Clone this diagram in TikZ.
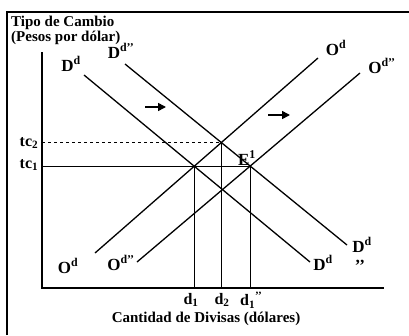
\documentclass[tikz,border=0pt]{standalone}
\usepackage{fontspec}
\setmainfont{Liberation Serif}
\usetikzlibrary{arrows.meta}
\begin{document}
\begin{tikzpicture}[x=1pt,y=-1pt,
  curve/.style={line width=1.3pt},
  axisline/.style={line width=1.3pt},
  frameline/.style={line width=1.2pt},
  guide/.style={line width=1pt},
  shiftarrow/.style={line width=1.6pt,-{Triangle[length=8pt,width=8pt]}},
  lbl/.style={font=\bfseries\fontsize{17}{17}\selectfont, inner sep=0pt},
  small/.style={font=\bfseries\fontsize{16}{16}\selectfont, inner sep=0pt},
  txt/.style={font=\bfseries\fontsize{15}{15}\selectfont, inner sep=0pt}]
\useasboundingbox (0,0) rectangle (409,335);
% frame
\coordinate (fTL) at (7,12); \coordinate (fTR) at (409,12); \coordinate (fBL) at (7,335);
\draw[frameline] (fBL) -- (fTL) -- (fTR);
% axes
\coordinate (yTop) at (42,52); \coordinate (orig) at (42,288); \coordinate (xEnd) at (384,288);
\draw[axisline] (yTop) -- (orig) -- (xEnd);
\node[txt,anchor=west] (ylab1) at (11,23) {Tipo de Cambio};
\node[txt,anchor=west] (ylab2) at (11,38) {(Pesos por dólar)};
\node[txt] (xlab) at (206,319) {Cantidad de Divisas (dólares)};
% curves
\coordinate (D1a) at (84,75); \coordinate (D1b) at (310,262);
\coordinate (D2a) at (125,64); \coordinate (D2b) at (347,245);
\coordinate (O1a) at (95,253); \coordinate (O1b) at (318,58);
\coordinate (O2a) at (137,262); \coordinate (O2b) at (360,73);
\draw[curve] (D1a) -- (D1b);
\draw[curve] (D2a) -- (D2b);
\draw[curve] (O1a) -- (O1b);
\draw[curve] (O2a) -- (O2b);
% intersections
\coordinate (E0) at (intersection of D1a--D1b and O1a--O1b);
\coordinate (Etc) at (intersection of D2a--D2b and O1a--O1b);
\coordinate (E1) at (intersection of D2a--D2b and O2a--O2b);
\draw[guide,dashed] (yTop |- Etc) -- (Etc);
\draw[guide] (yTop |- E1) -- (E1);
\draw[guide] (E0) -- (E0 |- orig);
\draw[guide] (Etc) -- (Etc |- orig);
\draw[guide] (E1) -- (E1 |- orig);
% labels
\node[small] (tc2) at (29,143) {tc\textsubscript{2}};
\node[small] (tc1) at (29,165) {tc\textsubscript{1}};
\node[small] (d1) at (191,300) {d\textsubscript{1}};
\node[small] (d2) at (222,300) {d\textsubscript{2}};
\node[small,anchor=west] (d3) at (240,300) {d\textsubscript{1}\textsuperscript{’’}};
\node[lbl] (E1l) at (247,158) {E\textsuperscript{1}};
\node[lbl] (Dl1) at (71,64) {D\textsuperscript{d}};
\node[lbl] (Dl2) at (121,51) {D\textsuperscript{d’’}};
\node[lbl] (Dl3) at (323,263) {D\textsuperscript{d}};
\node[lbl] (Dl4) at (362,245) {D\textsuperscript{d}};
\node[lbl] (Dl4p) at (360,266) {’’};
\node[lbl] (Ol1) at (336,48) {O\textsuperscript{d}};
\node[lbl] (Ol2) at (382,66) {O\textsuperscript{d’’}};
\node[lbl] (Ol3) at (68,266) {O\textsuperscript{d}};
\node[lbl] (Ol4) at (121,263) {O\textsuperscript{d’’}};
% shift arrows
\coordinate (a1s) at (145,107); \coordinate (a1e) at (166,107);
\coordinate (a2s) at (268,115); \coordinate (a2e) at (290,115);
\draw[shiftarrow] (a1s) -- (a1e);
\draw[shiftarrow] (a2s) -- (a2e);
\end{tikzpicture}
\end{document}
